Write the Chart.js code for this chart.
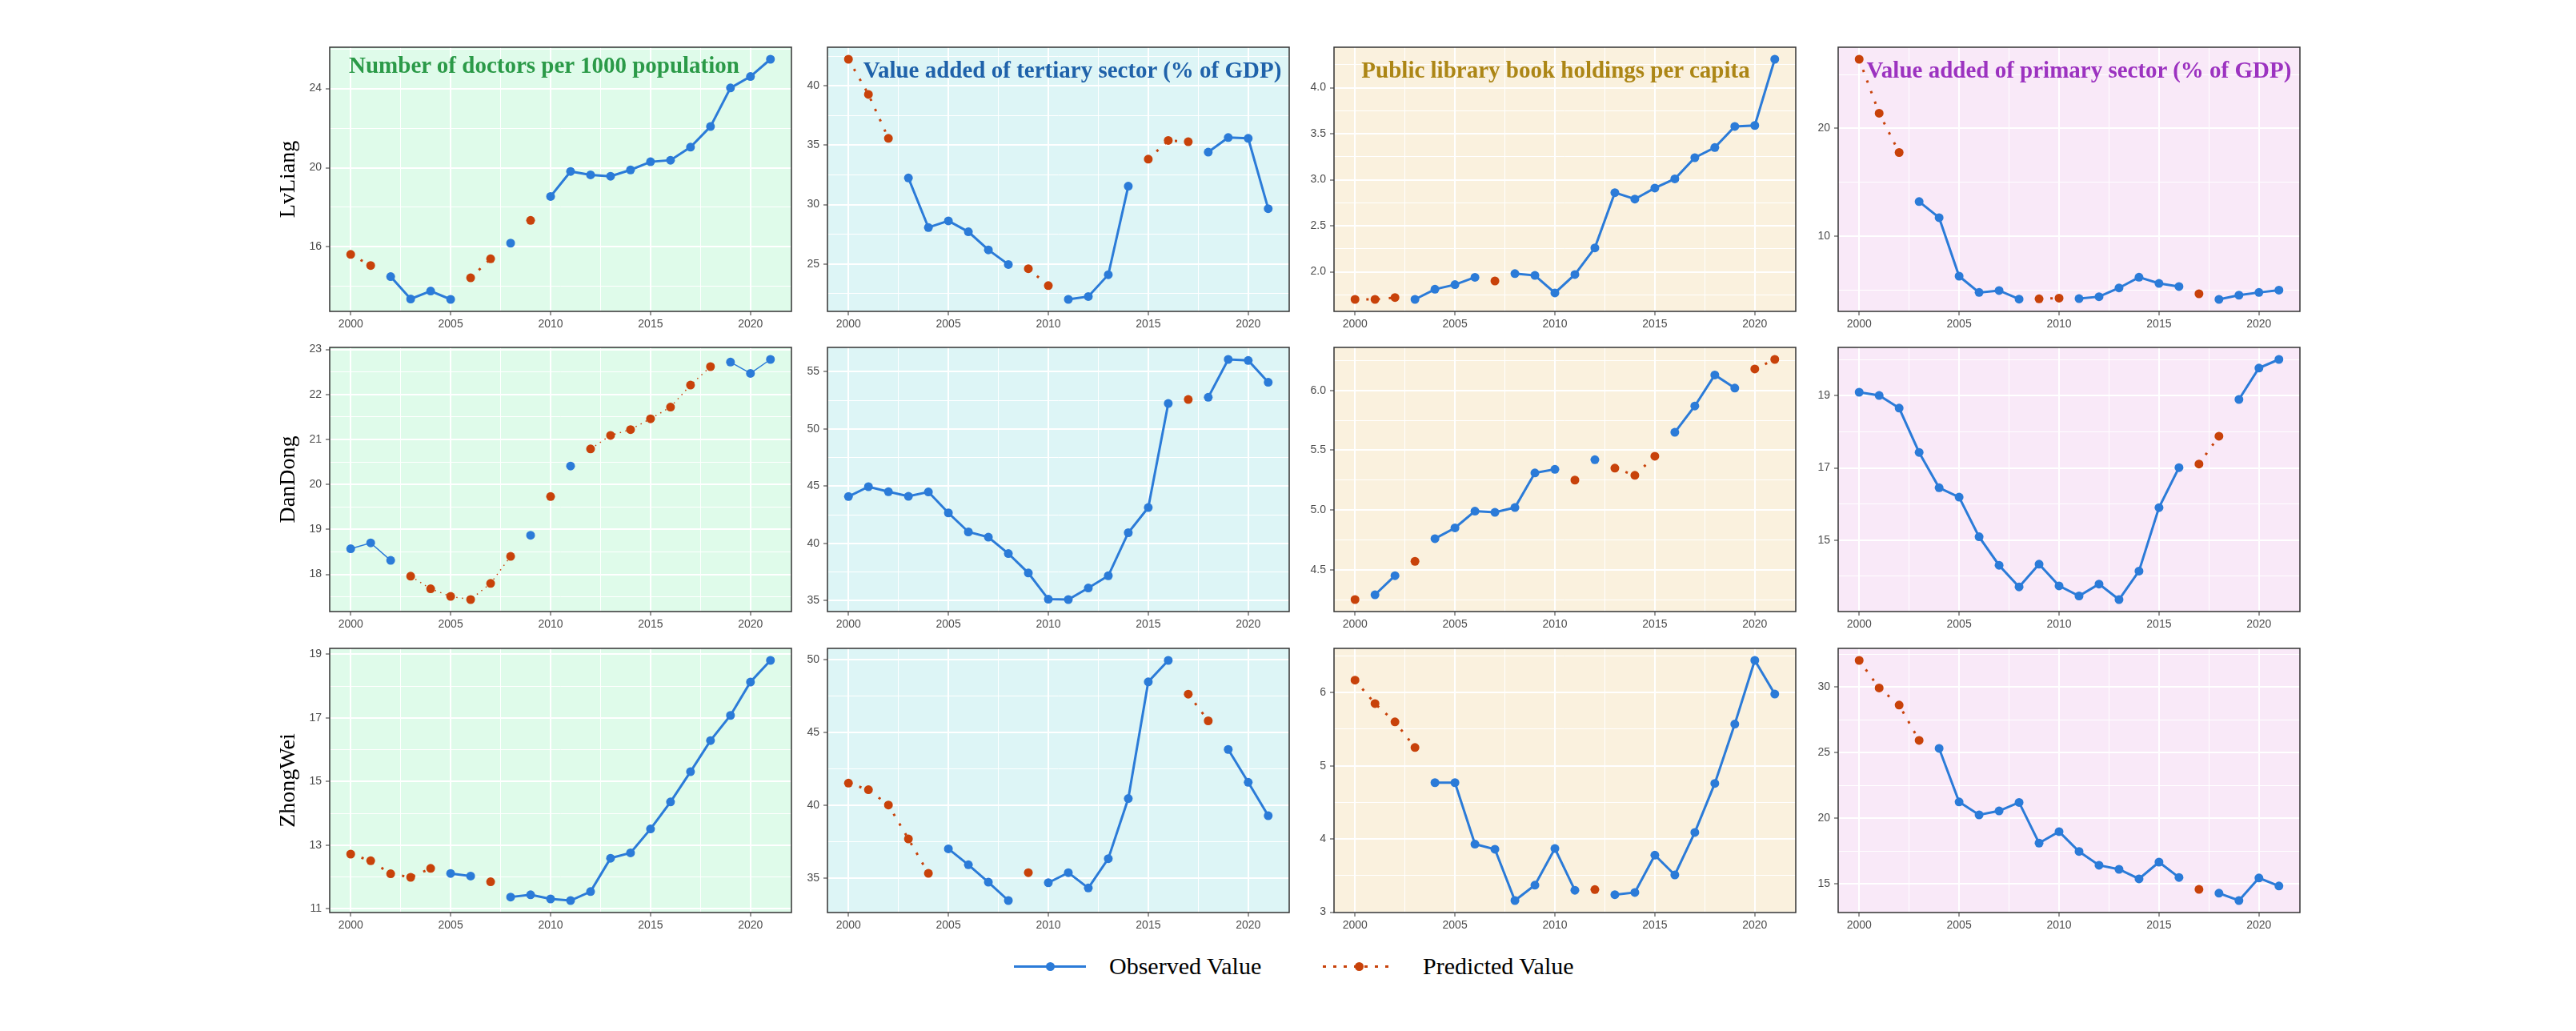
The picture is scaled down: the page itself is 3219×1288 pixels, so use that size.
<!DOCTYPE html>
<html>
<head>
<meta charset="utf-8">
<title>Observed and predicted values</title>
<script src="https://cdn.jsdelivr.net/npm/chart.js@4.4.1/dist/chart.umd.min.js"></script>
<style>
  html, body { margin: 0; padding: 0; background: #fff; }
  #page { position: relative; width: 3219px; height: 1288px; overflow: hidden; }
  .cell { position: absolute; }
  .title { position: absolute; font: bold 29px 'Liberation Serif', 'Times New Roman', serif; white-space: nowrap; line-height: 1; transform: translateX(-50%); }
  .rowlab { position: absolute; font: 28px 'Liberation Serif', 'Times New Roman', serif; white-space: nowrap; line-height: 1; color: #000; transform: translate(-50%, -50%) rotate(-90deg); }
  .key { position: absolute; height: 3px; }
  .keydot { position: absolute; width: 11px; height: 11px; border-radius: 50%; }
  .keytxt { position: absolute; font: 30px 'Liberation Serif', 'Times New Roman', serif; white-space: nowrap; line-height: 1; color: #000; }
</style>
</head>
<body>
<div id="page"></div>
<script>
'use strict';

var years = [2000, 2001, 2002, 2003, 2004, 2005, 2006, 2007, 2008, 2009, 2010,
             2011, 2012, 2013, 2014, 2015, 2016, 2017, 2018, 2019, 2020, 2021];

//LvLiang
var lvDoctorsObs = [null, null, 14.50, 13.37, 13.77, 13.35, null, null, 16.19, null, 18.55, 19.81, 19.64, 19.57, 19.89, 20.30, 20.38, 21.04, 22.08, 24.03, 24.61, 25.48];
var lvDoctorsPred = [15.62, 15.06, null, null, null, null, 14.44, 15.40, null, 17.34, null, null, null, null, null, null, null, null, null, null, null, null];
var lvTertiaryObs = [null, null, null, 32.24, 28.07, 28.63, 27.71, 26.19, 24.96, null, null, 22.02, 22.26, 24.10, 31.55, null, null, null, 34.42, 35.65, 35.58, 29.66];
var lvTertiaryPred = [42.24, 39.28, 35.58, null, null, null, null, null, null, 24.60, 23.18, null, null, null, null, 33.83, 35.40, 35.29, null, null, null, null];
var lvLibraryObs = [null, null, null, 1.70, 1.81, 1.86, 1.94, null, 1.98, 1.96, 1.77, 1.97, 2.26, 2.86, 2.79, 2.91, 3.01, 3.24, 3.35, 3.58, 3.59, 4.31];
var lvLibraryPred = [1.70, 1.70, 1.72, null, null, null, null, 1.90, null, null, null, null, null, null, null, null, null, null, null, null, null, null];
var lvPrimaryObs = [null, null, null, 13.22, 11.73, 6.31, 4.80, 4.98, 4.18, null, null, 4.23, 4.41, 5.22, 6.21, 5.64, 5.35, null, 4.16, 4.55, 4.80, 5.02];
var lvPrimaryPred = [26.41, 21.41, 17.77, null, null, null, null, null, null, 4.21, 4.28, null, null, null, null, null, null, 4.68, null, null, null, null];

//DanDong
var ddDoctorsObs = [18.57, 18.70, 18.31, null, null, null, null, null, null, 18.87, null, 20.41, null, null, null, null, null, null, null, 22.72, 22.47, 22.78];
var ddDoctorsPred = [null, null, null, 17.96, 17.68, 17.51, 17.44, 17.80, 18.40, null, 19.73, null, 20.79, 21.09, 21.22, 21.46, 21.72, 22.21, 22.62, null, null, null];
var ddTertiaryObs = [44.09, 44.95, 44.51, 44.11, 44.49, 42.66, 41.00, 40.54, 39.11, 37.41, 35.12, 35.09, 36.10, 37.17, 40.93, 43.13, 52.22, null, 52.76, 56.07, 55.98, 54.07];
var ddTertiaryPred = [null, null, null, null, null, null, null, null, null, null, null, null, null, null, null, null, null, 52.57, null, null, null, null];
var ddLibraryObs = [null, 4.29, 4.45, null, 4.76, 4.85, 4.99, 4.98, 5.02, 5.31, 5.34, null, 5.42, null, null, null, 5.65, 5.87, 6.13, 6.02, null, null];
var ddLibraryPred = [4.25, null, null, 4.57, null, null, null, null, null, null, null, 5.25, null, 5.35, 5.29, 5.45, null, null, null, null, 6.18, 6.26];
var ddPrimaryObs = [19.10, 19.01, 18.66, 17.43, 16.45, 16.19, 15.09, 14.30, 13.70, 14.33, 13.73, 13.45, 13.78, 13.35, 14.14, 15.90, 17.01, null, null, 18.90, 19.77, 20.01];
var ddPrimaryPred = [null, null, null, null, null, null, null, null, null, null, null, null, null, null, null, null, null, 17.11, 17.88, null, null, null];

//ZhongWei
var zwDoctorsObs = [null, null, null, null, null, 12.11, 12.03, null, 11.37, 11.44, 11.31, 11.26, 11.54, 12.59, 12.76, 13.51, 14.36, 15.31, 16.29, 17.08, 18.13, 18.81];
var zwDoctorsPred = [12.72, 12.51, 12.10, 11.99, 12.27, null, null, 11.85, null, null, null, null, null, null, null, null, null, null, null, null, null, null];
var zwTertiaryObs = [null, null, null, null, null, 37.02, 35.93, 34.74, 33.48, null, 34.70, 35.39, 34.34, 36.35, 40.47, 48.46, 49.93, null, null, 43.83, 41.58, 39.29];
var zwTertiaryPred = [41.52, 41.07, 40.02, 37.70, 35.34, null, null, null, null, 35.39, null, null, null, null, null, null, null, 47.62, 45.79, null, null, null];
var zwLibraryObs = [null, null, null, null, 4.77, 4.77, 3.93, 3.86, 3.16, 3.37, 3.87, 3.30, null, 3.24, 3.27, 3.78, 3.51, 4.09, 4.76, 5.57, 6.44, 5.98];
var zwLibraryPred = [6.17, 5.85, 5.60, 5.25, null, null, null, null, null, null, null, null, 3.31, null, null, null, null, null, null, null, null, null];
var zwPrimaryObs = [null, null, null, null, 25.33, 21.25, 20.26, 20.56, 21.21, 18.11, 18.98, 17.47, 16.42, 16.11, 15.38, 16.66, 15.49, null, 14.29, 13.73, 15.45, 14.84];
var zwPrimaryPred = [32.04, 29.94, 28.63, 25.94, null, null, null, null, null, null, null, null, null, null, null, null, null, 14.58, null, null, null, null];

var rowNames = ['LvLiang', 'DanDong', 'ZhongWei'];
var colTitles = ['Number of doctors per 1000 population', 'Value added of tertiary sector (% of GDP)',
                 'Public library book holdings per capita', 'Value added of primary sector (% of GDP)'];
var seriesNames = ['Observed Value', 'Predicted Value'];

// layout of the grid, in page pixels
var frameLeft = [412, 1034, 1667, 2297];
var frameTop = [59, 434, 810];
var frameW = 577;
var frameH = 330;
var AX = 70, BX = 40, PT = 14, PR = 8;

var titleColors = ['#2b9a48', '#1f62aa', '#ac8616', '#9c33c0'];
var titleCenter = [268, 306, 277, 301];
var titleBase = [32, 38, 38, 38];
var panelBg = ['#dffbea', '#ddf5f6', '#faf1de', '#f9e9f8'];
var obsColor = '#2b7bd8';
var predColor = '#c8420a';

// one entry per panel: data + tick spacing (minor step, labelled step)
var panels = [
  {row: 0, col: 0, obs: lvDoctorsObs, pred: lvDoctorsPred, minor: 2, major: 4, base: 0, dec: 0},
  {row: 0, col: 1, obs: lvTertiaryObs, pred: lvTertiaryPred, minor: 2.5, major: 5, base: 0, dec: 0},
  {row: 0, col: 2, obs: lvLibraryObs, pred: lvLibraryPred, minor: 0.25, major: 0.5, base: 0, dec: 1},
  {row: 0, col: 3, obs: lvPrimaryObs, pred: lvPrimaryPred, minor: 5, major: 10, base: 0, dec: 0},
  {row: 1, col: 0, obs: ddDoctorsObs, pred: ddDoctorsPred, minor: 0.5, major: 1, base: 0, dec: 0, thin: true},
  {row: 1, col: 1, obs: ddTertiaryObs, pred: ddTertiaryPred, minor: 2.5, major: 5, base: 0, dec: 0},
  {row: 1, col: 2, obs: ddLibraryObs, pred: ddLibraryPred, minor: 0.25, major: 0.5, base: 0, dec: 1},
  {row: 1, col: 3, obs: ddPrimaryObs, pred: ddPrimaryPred, minor: 1, major: 2, base: 1, dec: 0},
  {row: 2, col: 0, obs: zwDoctorsObs, pred: zwDoctorsPred, minor: 1, major: 2, base: 1, dec: 0},
  {row: 2, col: 1, obs: zwTertiaryObs, pred: zwTertiaryPred, minor: 2.5, major: 5, base: 0, dec: 0},
  {row: 2, col: 2, obs: zwLibraryObs, pred: zwLibraryPred, minor: 0.5, major: 1, base: 0, dec: 0},
  {row: 2, col: 3, obs: zwPrimaryObs, pred: zwPrimaryPred, minor: 2.5, major: 5, base: 0, dec: 0}
];

Chart.defaults.font.family = "'Liberation Sans', Arial, sans-serif";

var page = document.getElementById('page');

//panel background + border (ggplot style)
var panelFrame = {
  id: 'panelFrame',
  beforeDraw: function(chart, args, opts) {
    var a = chart.chartArea;
    var ctx = chart.ctx;
    ctx.save();
    ctx.fillStyle = opts.bg;
    ctx.fillRect(a.left, a.top, a.right - a.left, a.bottom - a.top);
    ctx.restore();
  },
  afterDraw: function(chart) {
    var a = chart.chartArea;
    var ctx = chart.ctx;
    ctx.save();
    ctx.strokeStyle = '#333333';
    ctx.lineWidth = 1.5;
    ctx.strokeRect(a.left, a.top, a.right - a.left, a.bottom - a.top);
    ctx.restore();
  }
};

function onStep(v, base, step) {
  var k = (v - base) / step;
  return Math.abs(k - Math.round(k)) < 1e-6;
}

function toPoints(arr) {
  return years.map(function(yr, i) {
    return {x: yr, y: arr[i]};
  });
}

// ggplot default: 5% expansion of the data range
function yRange(p) {
  var vals = p.obs.concat(p.pred).filter(function(v) { return v !== null; });
  var lo = Math.min.apply(null, vals);
  var hi = Math.max.apply(null, vals);
  var pad = (hi - lo) * 0.05;
  return {min: lo - pad, max: hi + pad};
}

function makePanel(p) {
  var box = document.createElement('div');
  box.className = 'cell';
  box.style.left = (frameLeft[p.col] - AX) + 'px';
  box.style.top = (frameTop[p.row] - PT) + 'px';
  box.style.width = (frameW + AX + PR) + 'px';
  box.style.height = (frameH + PT + BX) + 'px';
  var canvas = document.createElement('canvas');
  box.appendChild(canvas);
  page.appendChild(box);

  var lw = p.thin ? 1.5 : 3;
  var r = yRange(p);
  var xMin = years[0] - 0.05 * (years[years.length - 1] - years[0]);
  var xMax = years[years.length - 1] + 0.05 * (years[years.length - 1] - years[0]);

  new Chart(canvas, {
    type: 'line',
    data: {
      datasets: [{
        label: seriesNames[0],
        data: toPoints(p.obs),
        borderColor: obsColor,
        backgroundColor: obsColor,
        borderWidth: lw,
        pointRadius: 5.5,
        pointBorderWidth: 0,
        pointBackgroundColor: obsColor,
        tension: 0
      },
      {
        label: seriesNames[1],
        data: toPoints(p.pred),
        borderColor: predColor,
        backgroundColor: predColor,
        borderWidth: lw,
        borderDash: [lw, lw * 3.7],
        borderCapStyle: 'butt',
        pointRadius: 5.5,
        pointBorderWidth: 0,
        pointBackgroundColor: predColor,
        tension: 0
      }]
    },
    options: {
      responsive: true,
      maintainAspectRatio: false,
      animation: false,
      layout: {padding: {top: PT, right: PR, left: 0, bottom: 0}},
      plugins: {
        legend: {display: false},
        tooltip: {enabled: false},
        panelFrame: {bg: panelBg[p.col]}
      },
      scales: {
        x: {
          type: 'linear',
          min: xMin,
          max: xMax,
          afterFit: function(s) { s.height = BX; },
          border: {display: false},
          grid: {
            color: '#ffffff',
            lineWidth: function(c) { return c.tick && onStep(c.tick.value, 0, 5) ? 2 : 1; },
            tickLength: 5,
            tickWidth: 1,
            tickColor: function(c) { return c.tick && onStep(c.tick.value, 0, 5) ? '#333333' : 'rgba(0,0,0,0)'; }
          },
          ticks: {
            stepSize: 2.5,
            includeBounds: false,
            autoSkip: false,
            maxRotation: 0,
            padding: 3,
            color: '#4d4d4d',
            font: {size: 14},
            callback: function(v) { return onStep(v, 0, 5) ? String(Math.round(v)) : ''; }
          }
        },
        y: {
          type: 'linear',
          min: r.min,
          max: r.max,
          afterFit: function(s) { s.width = AX; },
          border: {display: false},
          grid: {
            color: '#ffffff',
            lineWidth: function(c) { return c.tick && onStep(c.tick.value, p.base, p.major) ? 2 : 1; },
            tickLength: 5,
            tickWidth: 1,
            tickColor: function(c) { return c.tick && onStep(c.tick.value, p.base, p.major) ? '#333333' : 'rgba(0,0,0,0)'; }
          },
          ticks: {
            stepSize: p.minor,
            includeBounds: false,
            autoSkip: false,
            padding: 5,
            color: '#4d4d4d',
            font: {size: 14},
            callback: function(v) { return onStep(v, p.base, p.major) ? Number(v).toFixed(p.dec) : ''; }
          }
        }
      }
    },
    plugins: [panelFrame]
  });
}

panels.forEach(makePanel);

//titles inside the top row
colTitles.forEach(function(t, c) {
  var d = document.createElement('div');
  d.className = 'title';
  d.textContent = t;
  d.style.color = titleColors[c];
  d.style.left = (frameLeft[c] + titleCenter[c]) + 'px';
  d.style.top = (frameTop[0] + titleBase[c] - 24) + 'px';
  page.appendChild(d);
});

//row labels on the left
rowNames.forEach(function(name, r) {
  var d = document.createElement('div');
  d.className = 'rowlab';
  d.textContent = name;
  d.style.left = '359px';
  d.style.top = (frameTop[r] + frameH / 2) + 'px';
  page.appendChild(d);
});

//legend at the bottom
var keyLeft = [1267, 1653];
var textLeft = [1386, 1778];
var legendY = 1207;
seriesNames.forEach(function(name, i) {
  var col = i === 0 ? obsColor : predColor;
  var ln = document.createElement('div');
  ln.className = 'key';
  ln.style.left = keyLeft[i] + 'px';
  ln.style.top = (legendY - 1.5) + 'px';
  ln.style.width = '90px';
  ln.style.background = i === 0 ? col :
    'repeating-linear-gradient(to right, ' + col + ' 0 4px, transparent 4px 13px)';
  page.appendChild(ln);
  var dot = document.createElement('div');
  dot.className = 'keydot';
  dot.style.background = col;
  dot.style.left = (keyLeft[i] + 45 - 5.5) + 'px';
  dot.style.top = (legendY - 5.5) + 'px';
  page.appendChild(dot);
  var tx = document.createElement('div');
  tx.className = 'keytxt';
  tx.textContent = name;
  tx.style.left = textLeft[i] + 'px';
  tx.style.top = (legendY - 15) + 'px';
  page.appendChild(tx);
});
</script>
</body>
</html>
